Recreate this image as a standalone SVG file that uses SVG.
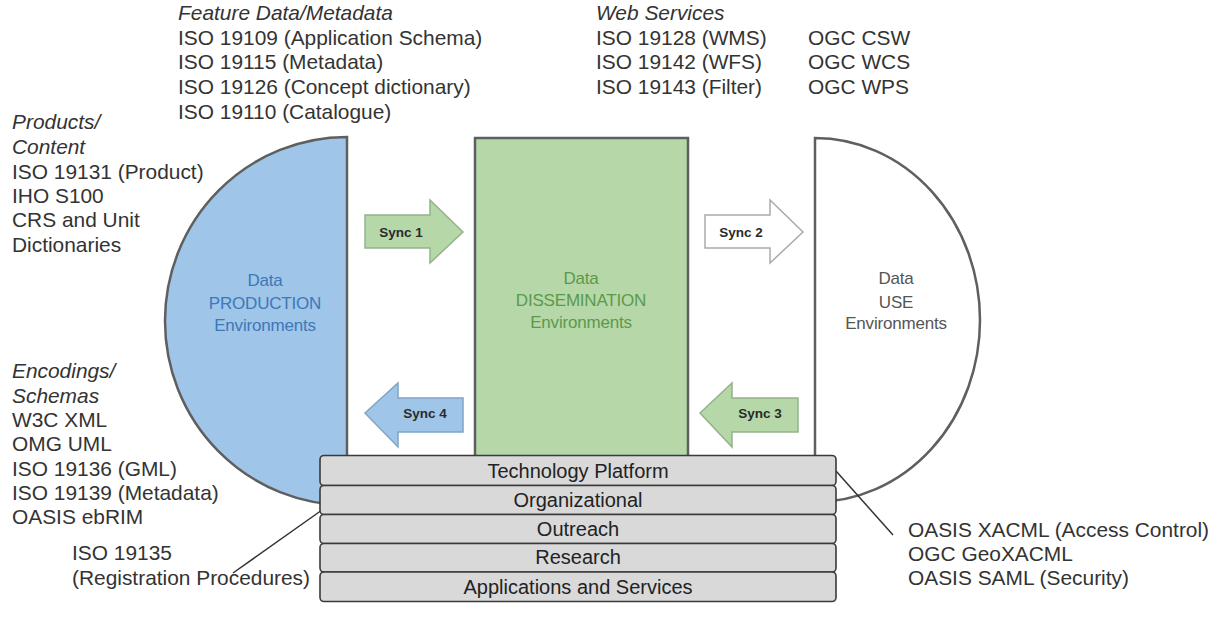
<svg xmlns="http://www.w3.org/2000/svg" width="1226" height="624" viewBox="0 0 1226 624">
<style>
text{font-family:"Liberation Sans",Arial,sans-serif;fill:#333}
.t{font-size:20.9px}
.i{font-style:italic}
.lbl{font-size:17px;text-anchor:middle;letter-spacing:-0.2px}
.sync{font-size:13.5px;font-weight:bold;text-anchor:middle;fill:#2a2a2a}
.shape{stroke:#5f5f5f;stroke-width:2.5}
.row{fill:#d9d9d9;stroke:#3a3a3a;stroke-width:1.6}
.rowt{font-size:20px;text-anchor:middle;fill:#222}
.arrow{stroke-width:1.5}
.lead{stroke:#333;stroke-width:1.5;fill:none}
</style>
<rect width="1226" height="624" fill="#fff"/>
<g id="production">
<path class="shape" d="M347 137 A182 184 0 0 0 347 505 Z" fill="#9fc5e8"/>
<text class="lbl" x="265" y="286" style="fill:#3d78b8">Data</text>
<text class="lbl" x="265" y="309" style="fill:#3d78b8">PRODUCTION</text>
<text class="lbl" x="265" y="331" style="fill:#3d78b8">Environments</text>
</g>
<g id="dissemination">
<rect class="shape" x="475" y="138" width="213" height="330" fill="#b6d7a8"/>
<text class="lbl" x="581" y="284" style="fill:#5b9a4c">Data</text>
<text class="lbl" x="581" y="306" style="fill:#5b9a4c">DISSEMINATION</text>
<text class="lbl" x="581" y="328" style="fill:#5b9a4c">Environments</text>
</g>
<g id="use">
<path class="shape" d="M815 138 A165 182 0 0 1 815 502 Z" fill="#fff"/>
<text class="lbl" x="896" y="284" style="fill:#555">Data</text>
<text class="lbl" x="896" y="308" style="fill:#555">USE</text>
<text class="lbl" x="896" y="329" style="fill:#555">Environments</text>
</g>
<g id="connectors">
<g id="sync1">
<path class="arrow" d="M365 215 H430 V200 L463 232 L430 263 V248 H365 Z" fill="#b6d7a8" stroke="#93b48a"/>
<text class="sync" x="401" y="237">Sync 1</text>
</g>
<g id="sync2">
<path class="arrow" d="M705 215 H770 V200 L803 232 L770 263 V248 H705 Z" fill="#fff" stroke="#aaa"/>
<text class="sync" x="741" y="237">Sync 2</text>
</g>
<g id="sync3">
<path class="arrow" d="M798 398 H732 V383 L700 413 L732 447 V432 H798 Z" fill="#b6d7a8" stroke="#93b48a"/>
<text class="sync" x="760" y="418">Sync 3</text>
</g>
<g id="sync4">
<path class="arrow" d="M463 398 H398 V383 L365 413 L398 447 V432 H463 Z" fill="#9fc5e8" stroke="#7fa5c8"/>
<text class="sync" x="425" y="418">Sync 4</text>
</g>
<line class="lead" x1="233" y1="573" x2="322" y2="510"/>
<line class="lead" x1="836" y1="471" x2="893" y2="535"/>
</g>
<g id="platform">
<rect class="row" x="320" y="455.5" width="516" height="30" rx="4"/>
<rect class="row" x="320" y="485.5" width="516" height="29" rx="4"/>
<rect class="row" x="320" y="514.5" width="516" height="29" rx="4"/>
<rect class="row" x="320" y="543.5" width="516" height="28.5" rx="4"/>
<rect class="row" x="320" y="572" width="516" height="29.5" rx="4"/>
<text class="rowt" x="578" y="478">Technology Platform</text>
<text class="rowt" x="578" y="507">Organizational</text>
<text class="rowt" x="578" y="536">Outreach</text>
<text class="rowt" x="578" y="564">Research</text>
<text class="rowt" x="578" y="594">Applications and Services</text>
</g>
<g id="feature-data">
<text class="t i" x="178" y="20">Feature Data/Metadata</text>
<text class="t" x="178" y="45">ISO 19109 (Application Schema)</text>
<text class="t" x="178" y="69">ISO 19115 (Metadata)</text>
<text class="t" x="178" y="94">ISO 19126 (Concept dictionary)</text>
<text class="t" x="178" y="119">ISO 19110 (Catalogue)</text>
</g>
<g id="web-services">
<text class="t i" x="596" y="20">Web Services</text>
<text class="t" x="596" y="45">ISO 19128 (WMS)</text>
<text class="t" x="596" y="69">ISO 19142 (WFS)</text>
<text class="t" x="596" y="94">ISO 19143 (Filter)</text>
<text class="t" x="808" y="45">OGC CSW</text>
<text class="t" x="808" y="69">OGC WCS</text>
<text class="t" x="808" y="94">OGC WPS</text>
</g>
<g id="products">
<text class="t i" x="12" y="129">Products/</text>
<text class="t i" x="12" y="154">Content</text>
<text class="t" x="12" y="179">ISO 19131 (Product)</text>
<text class="t" x="12" y="203">IHO S100</text>
<text class="t" x="12" y="227">CRS and Unit</text>
<text class="t" x="12" y="252">Dictionaries</text>
</g>
<g id="encodings">
<text class="t i" x="12" y="378">Encodings/</text>
<text class="t i" x="12" y="403">Schemas</text>
<text class="t" x="12" y="427">W3C XML</text>
<text class="t" x="12" y="451">OMG UML</text>
<text class="t" x="12" y="476">ISO 19136 (GML)</text>
<text class="t" x="12" y="500">ISO 19139 (Metadata)</text>
<text class="t" x="12" y="524">OASIS ebRIM</text>
</g>
<g id="registration">
<text class="t" x="72" y="560">ISO 19135</text>
<text class="t" x="72" y="585">(Registration Procedures)</text>
</g>
<g id="security">
<text class="t" x="908" y="537">OASIS XACML (Access Control)</text>
<text class="t" x="908" y="561">OGC GeoXACML</text>
<text class="t" x="908" y="585">OASIS SAML (Security)</text>
</g>
</svg>
